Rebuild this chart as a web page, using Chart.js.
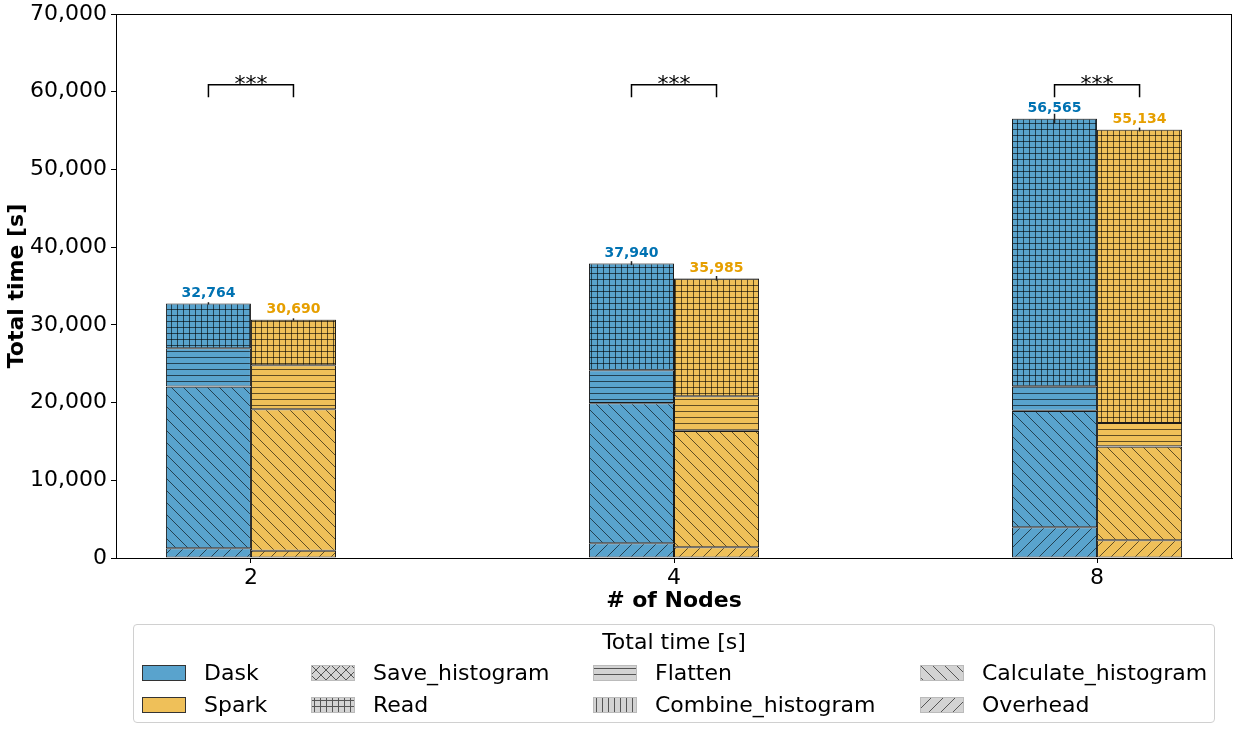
<!DOCTYPE html>
<html>
<head>
<meta charset="utf-8">
<script src="https://cdn.jsdelivr.net/npm/chart.js@4/dist/chart.umd.min.js"></script>
<style>
  html, body { margin: 0; padding: 0; background: #fff; }
  body { width: 1238px; height: 731px; position: relative; overflow: hidden; font-family: "DejaVu Sans", sans-serif; }
  #wrap { position: absolute; left: 0; top: 0; width: 1238px; height: 731px; }
  #legend {
    position: absolute; left: 133px; top: 624px; width: 1080px; height: 97px;
    border: 1px solid #d0d0d0; border-radius: 4px; background: #fff;
  }
  #legend .title { position: absolute; left: 0; right: 0; top: 4px; text-align: center; font-size: 22px; color: #000; }
  #legend .item { position: absolute; display: flex; align-items: center; font-size: 22px; color: #000; white-space: nowrap; }
  #legend canvas { margin-right: 18px; }
</style>
</head>
<body>
<div id="wrap"><canvas id="chart" width="1238" height="731"></canvas></div>
<div id="legend"><div class="title">Total time [s]</div></div>
<script>
// categories (x axis)
const nodes = ["2", "4", "8"]

// stages, bottom of the stack first
const stages = ["Overhead", "Calculate_histogram", "Combine_histogram", "Flatten", "Read", "Save_histogram"]

// Dask segments [s]
const daskOverhead = [1250, 1890, 3950]
const daskCalculate = [20790, 18010, 14970]
const daskCombine = [20, 30, 40]
const daskFlatten = [4920, 4220, 3130]
const daskRead = [5764, 13750, 34435]
const daskSave = [20, 40, 40]
const daskTotal = [32764, 37940, 56565]
const daskErr = [150, 250, 600]

// Spark segments [s]
const sparkOverhead = [940, 1370, 2270]
const sparkCalculate = [18190, 14970, 12060]
const sparkCombine = [20, 30, 40]
const sparkFlatten = [5650, 4430, 3000]
const sparkRead = [5870, 15145, 37724]
const sparkSave = [20, 40, 40]
const sparkTotal = [30690, 35985, 55134]
const sparkErr = [150, 300, 250]

// significance brackets
const sigLabels = ["***", "***", "***"]
const sigTop = 60900
const sigLeg = 59300

const yTicks = [0, 10000, 20000, 30000, 40000, 50000, 60000, 70000]

const DASK_FILL = "#59a3cd"
const SPARK_FILL = "#efc059"
const DASK_TEXT = "#0072B2"
const SPARK_TEXT = "#E69F00"

const hatchOf = {
  Overhead: "/",
  Calculate_histogram: "\\",
  Combine_histogram: "|",
  Flatten: "-",
  Read: "+",
  Save_histogram: "x",
}

const makeHatch = (kind, bg, fg) => {
  const size = kind === "/" || kind === "\\" ? 12 : kind === "x" ? 10 : 6
  const c = document.createElement("canvas")
  c.width = size
  c.height = size
  const g = c.getContext("2d")
  g.fillStyle = bg
  g.fillRect(0, 0, size, size)
  g.strokeStyle = fg
  g.lineWidth = 1
  g.beginPath()
  if (kind === "/" || kind === "x") {
    for (const k of [-size, 0, size]) {
      g.moveTo(k, size)
      g.lineTo(k + size, 0)
    }
  }
  if (kind === "\\" || kind === "x") {
    for (const k of [-size, 0, size]) {
      g.moveTo(k, 0)
      g.lineTo(k + size, size)
    }
  }
  if (kind === "-" || kind === "+") {
    g.moveTo(0, size / 2 + 0.5)
    g.lineTo(size, size / 2 + 0.5)
  }
  if (kind === "|" || kind === "+") {
    g.moveTo(size / 2 + 0.5, 0)
    g.lineTo(size / 2 + 0.5, size)
  }
  g.stroke()
  return c
}

const ctx = document.getElementById("chart").getContext("2d")
const pattern = (kind, bg, fg) => ctx.createPattern(makeHatch(kind, bg, fg), "repeat")

const daskSeries = [daskOverhead, daskCalculate, daskCombine, daskFlatten, daskRead, daskSave]
const sparkSeries = [sparkOverhead, sparkCalculate, sparkCombine, sparkFlatten, sparkRead, sparkSave]

const datasets = []
stages.forEach((stage, i) => {
  datasets.push({
    label: "Dask " + stage,
    stack: "Dask",
    data: daskSeries[i].map((v, j) => ({ x: j, y: v })),
    backgroundColor: pattern(hatchOf[stage], DASK_FILL, "rgba(0,0,0,0.6)"),
  })
  datasets.push({
    label: "Spark " + stage,
    stack: "Spark",
    data: sparkSeries[i].map((v, j) => ({ x: j, y: v })),
    backgroundColor: pattern(hatchOf[stage], SPARK_FILL, "rgba(0,0,0,0.6)"),
  })
})
datasets.forEach((d) => {
  d.borderColor = "#1a1a1a"
  d.borderWidth = 1
  d.borderSkipped = false
  d.categoryPercentage = 0.402
  d.barPercentage = 1
})

const FONT = "DejaVu Sans"

// frame, error bars, totals and brackets
const extrasPlugin = {
  id: "extras",
  afterDatasetsDraw(chart) {
    const { ctx: c, chartArea: a, scales } = chart
    const y = scales.y
    const daskTop = chart.getDatasetMeta(datasets.length - 2)
    const sparkTop = chart.getDatasetMeta(datasets.length - 1)
    c.save()

    // error bars on the totals
    c.strokeStyle = "#222"
    c.lineWidth = 1.5
    const errBar = (x, v, e) => {
      c.beginPath()
      c.moveTo(x, y.getPixelForValue(v - e))
      c.lineTo(x, y.getPixelForValue(v + e))
      c.stroke()
    }
    nodes.forEach((_, i) => {
      errBar(daskTop.data[i].x, daskTotal[i], daskErr[i])
      errBar(sparkTop.data[i].x, sparkTotal[i], sparkErr[i])
    })

    // totals
    c.font = "bold 14px '" + FONT + "'"
    c.textAlign = "center"
    c.textBaseline = "bottom"
    nodes.forEach((_, i) => {
      c.fillStyle = DASK_TEXT
      c.fillText(daskTotal[i].toLocaleString("en-US"), daskTop.data[i].x, y.getPixelForValue(daskTotal[i]) - 3)
      c.fillStyle = SPARK_TEXT
      c.fillText(sparkTotal[i].toLocaleString("en-US"), sparkTop.data[i].x, y.getPixelForValue(sparkTotal[i]) - 3)
    })

    // significance brackets
    c.strokeStyle = "#000"
    c.lineWidth = 1.5
    c.fillStyle = "#000"
    c.font = "22px '" + FONT + "'"
    c.textBaseline = "middle"
    nodes.forEach((_, i) => {
      const x1 = daskTop.data[i].x
      const x2 = sparkTop.data[i].x
      const yt = y.getPixelForValue(sigTop)
      const yl = y.getPixelForValue(sigLeg)
      c.beginPath()
      c.moveTo(x1, yl)
      c.lineTo(x1, yt)
      c.lineTo(x2, yt)
      c.lineTo(x2, yl)
      c.stroke()
      c.fillText(sigLabels[i], (x1 + x2) / 2, yt + 1)
    })

    // box around the plot
    c.strokeStyle = "#000"
    c.lineWidth = 1
    c.strokeRect(a.left + 0.5, a.top + 0.5, a.right - a.left - 1, a.bottom - a.top)
    c.restore()
  },
}

new Chart(ctx, {
  type: "bar",
  data: { datasets: datasets },
  options: {
    responsive: false,
    animation: false,
    devicePixelRatio: 1,
    layout: { padding: { left: 0, right: 6, top: 14, bottom: 117 } },
    plugins: {
      legend: { display: false },
      tooltip: { enabled: false },
    },
    scales: {
      x: {
        type: "linear",
        offset: false,
        min: -0.319,
        max: 2.319,
        afterBuildTicks: (scale) => {
          scale.ticks = nodes.map((_, i) => ({ value: i }))
        },
        afterFit: (scale) => {
          scale.height = 56
        },
        ticks: {
          callback: (v) => nodes[v] ?? "",
          color: "#000",
          font: { family: FONT, size: 22 },
          padding: 2,
          maxRotation: 0,
        },
        grid: { offset: false, drawOnChartArea: false, color: "#000", tickLength: 5 },
        border: { color: "#000" },
        title: {
          display: true,
          text: "# of Nodes",
          color: "#000",
          font: { family: FONT, size: 22, weight: "bold" },
          padding: { top: 0, bottom: 0 },
        },
      },
      y: {
        stacked: true,
        min: 0,
        max: 70000,
        afterBuildTicks: (scale) => {
          scale.ticks = yTicks.map((v) => ({ value: v }))
        },
        afterFit: (scale) => {
          scale.width = 116
          scale.paddingTop = 0
          scale.paddingBottom = 0
        },
        ticks: {
          callback: (v) => v.toLocaleString("en-US"),
          color: "#000",
          font: { family: FONT, size: 22, lineHeight: 1 },
          padding: 4,
        },
        grid: { drawOnChartArea: false, color: "#000", tickLength: 5 },
        border: { color: "#000" },
        title: {
          display: true,
          text: "Total time [s]",
          color: "#000",
          font: { family: FONT, size: 22, weight: "bold" },
          padding: { top: 4, bottom: 0 },
        },
      },
    },
  },
  plugins: [extrasPlugin],
})

// legend, laid out in columns like the original
const legendItems = [
  { label: "Dask", fill: DASK_FILL },
  { label: "Spark", fill: SPARK_FILL },
  { label: "Save_histogram", hatch: "x" },
  { label: "Read", hatch: "+" },
  { label: "Flatten", hatch: "-" },
  { label: "Combine_histogram", hatch: "|" },
  { label: "Calculate_histogram", hatch: "\\" },
  { label: "Overhead", hatch: "/" },
]
const colLeft = [8, 177, 459, 786]
const rowTop = [35, 67]
const legendBox = document.getElementById("legend")
legendItems.forEach((item, i) => {
  const div = document.createElement("div")
  div.className = "item"
  div.style.left = colLeft[Math.floor(i / 2)] + "px"
  div.style.top = rowTop[i % 2] + "px"
  const sw = document.createElement("canvas")
  sw.width = 44
  sw.height = 16
  const g = sw.getContext("2d")
  if (item.fill) {
    g.fillStyle = item.fill
    g.fillRect(0, 0, 44, 16)
    g.strokeStyle = "#333"
    g.strokeRect(0.5, 0.5, 43, 15)
  } else {
    g.fillStyle = g.createPattern(makeHatch(item.hatch, "#d3d3d3", "#555"), "repeat")
    g.fillRect(0, 0, 44, 16)
    g.strokeStyle = "#bbb"
    g.strokeRect(0.5, 0.5, 43, 15)
  }
  const span = document.createElement("span")
  span.textContent = item.label
  div.appendChild(sw)
  div.appendChild(span)
  legendBox.appendChild(div)
})
</script>
</body>
</html>
